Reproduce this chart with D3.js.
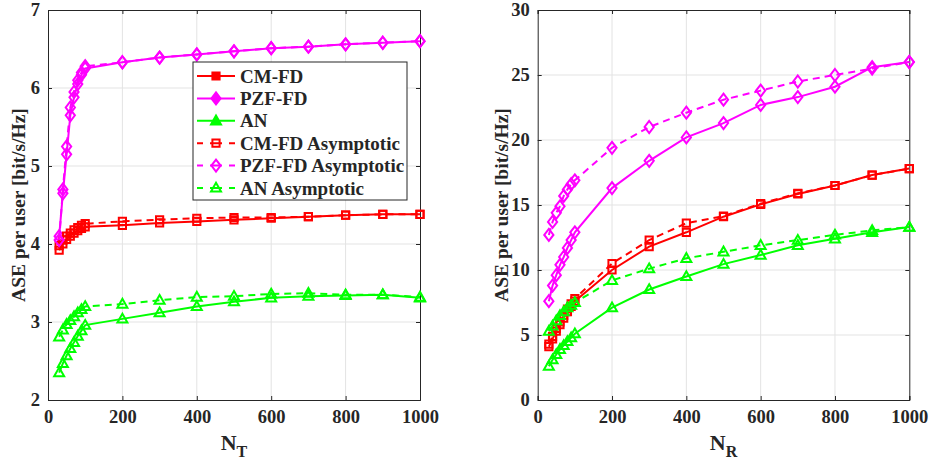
<!DOCTYPE html>
<html>
<head>
<meta charset="utf-8">
<script src="https://cdn.jsdelivr.net/npm/d3@7"></script>
<style>
  html, body { margin: 0; padding: 0; background: #fff; }
  svg { display: block; }
  text { font-family: "Liberation Serif", "Times New Roman", serif; font-weight: bold; fill: #262626; }
</style>
</head>
<body>
<svg id="chart" width="929" height="465"></svg>
<script>
// Antenna counts on the horizontal axes
const antennas = [30, 40, 50, 60, 70, 80, 90, 100, 200, 300, 400, 500, 600, 700, 800, 900, 1000];

// ASE per user versus N_T
const cmfdT      = [3.92, 4.00, 4.06, 4.10, 4.14, 4.17, 4.20, 4.22, 4.24, 4.27, 4.29, 4.31, 4.33, 4.35, 4.37, 4.38, 4.38];
const pzfT       = [4.10, 4.65, 5.15, 5.65, 5.88, 6.05, 6.17, 6.25, 6.33, 6.39, 6.43, 6.47, 6.51, 6.53, 6.56, 6.58, 6.60];
const anT        = [2.35, 2.47, 2.57, 2.66, 2.74, 2.82, 2.89, 2.96, 3.04, 3.12, 3.20, 3.26, 3.31, 3.33, 3.34, 3.35, 3.31];
const cmfdAsymT  = [3.98, 4.05, 4.10, 4.14, 4.18, 4.21, 4.24, 4.26, 4.29, 4.31, 4.33, 4.34, 4.34, 4.35, 4.37, 4.38, 4.38];
const pzfAsymT   = [4.05, 4.70, 5.25, 5.75, 5.95, 6.10, 6.20, 6.28, 6.33, 6.39, 6.43, 6.47, 6.51, 6.53, 6.56, 6.58, 6.60];
const anAsymT    = [2.81, 2.90, 2.97, 3.02, 3.07, 3.12, 3.16, 3.20, 3.23, 3.28, 3.32, 3.33, 3.36, 3.37, 3.35, 3.35, 3.32];

// ASE per user versus N_R
const cmfdR      = [4.1, 4.7, 5.3, 5.8, 6.3, 6.8, 7.2, 7.6, 10.0, 11.8, 12.9, 14.1, 15.05, 15.85, 16.5, 17.3, 17.8];
const pzfR       = [7.6, 8.8, 9.6, 10.4, 11.0, 11.7, 12.3, 12.9, 16.3, 18.4, 20.2, 21.3, 22.7, 23.3, 24.1, 25.6, 26.0];
const anR        = [2.6, 3.1, 3.5, 3.9, 4.2, 4.5, 4.8, 5.1, 7.1, 8.5, 9.5, 10.45, 11.15, 11.9, 12.4, 12.9, 13.3];
const cmfdAsymR  = [4.3, 4.9, 5.5, 6.0, 6.5, 7.0, 7.4, 7.8, 10.5, 12.3, 13.6, 14.15, 15.1, 15.9, 16.5, 17.3, 17.8];
const pzfAsymR   = [12.7, 13.7, 14.4, 14.9, 15.7, 16.2, 16.6, 16.9, 19.4, 21.0, 22.1, 23.1, 23.8, 24.5, 25.0, 25.5, 26.0];
const anAsymR    = [5.3, 5.7, 6.1, 6.5, 6.8, 7.1, 7.3, 7.5, 9.2, 10.1, 10.9, 11.4, 11.9, 12.3, 12.7, 13.05, 13.3];

// Tick labels
const xTicks  = [0, 200, 400, 600, 800, 1000];
const yTicksT = [2, 3, 4, 5, 6, 7];
const yTicksR = [0, 5, 10, 15, 20, 25, 30];

// Series names and styles
const seriesNames = ["CM-FD", "PZF-FD", "AN", "CM-FD Asymptotic", "PZF-FD Asymptotic", "AN Asymptotic"];
const seriesColor = ["#ff0000", "#ff00ff", "#00ff00", "#ff0000", "#ff00ff", "#00ff00"];
const seriesShape = ["square", "diamond", "triangle", "square", "diamond", "triangle"];
const seriesDash  = [false, false, false, true, true, true];

const svg = d3.select("#chart");

function markerPath(shape) {
  if (shape === "square") return "M-3.6,-3.6H3.6V3.6H-3.6Z";
  if (shape === "diamond") return "M0,-6L4.6,0L0,6L-4.6,0Z";
  return "M0,-5.2L5,3.6H-5Z";
}

function drawPanel(opt) {
  const { left, right, top, bottom, yDomain, yTicks, series, xLabelSub, yLabelX, legend } = opt;
  const g = svg.append("g");
  const x = d3.scaleLinear().domain([0, 1000]).range([left, right]);
  const y = d3.scaleLinear().domain(yDomain).range([bottom, top]);

  // grid
  g.append("g").selectAll("line").data(xTicks.slice(1, -1)).join("line")
    .attr("x1", d => x(d)).attr("x2", d => x(d)).attr("y1", top).attr("y2", bottom)
    .attr("stroke", "#e3e3e3").attr("stroke-width", 1);
  g.append("g").selectAll("line").data(yTicks.slice(1, -1)).join("line")
    .attr("y1", d => y(d)).attr("y2", d => y(d)).attr("x1", left).attr("x2", right)
    .attr("stroke", "#e3e3e3").attr("stroke-width", 1);

  // axes with inward ticks on all four sides
  const axB = d3.axisBottom(x).tickValues(xTicks).tickSize(-4).tickPadding(10).tickFormat(d3.format("d"));
  const axT = d3.axisTop(x).tickValues(xTicks).tickSize(-4).tickFormat("");
  const axL = d3.axisLeft(y).tickValues(yTicks).tickSize(-4).tickPadding(8).tickFormat(d3.format("d"));
  const axR = d3.axisRight(y).tickValues(yTicks).tickSize(-4).tickFormat("");
  [[axB, `translate(0,${bottom})`], [axT, `translate(0,${top})`],
   [axL, `translate(${left},0)`], [axR, `translate(${right},0)`]].forEach(([ax, tr]) => {
    const a = g.append("g").attr("transform", tr).call(ax);
    a.select(".domain").attr("stroke", "#262626").attr("stroke-width", 1);
    a.selectAll(".tick line").attr("stroke", "#262626").attr("stroke-width", 1);
    a.selectAll("text").attr("font-size", 18.5).attr("font-family", "Liberation Serif")
      .attr("font-weight", "bold").attr("fill", "#262626");
  });

  // series lines and markers
  const line = d3.line().x((d, i) => x(antennas[i])).y(d => y(d));
  series.forEach((vals, k) => {
    g.append("path").datum(vals)
      .attr("d", line)
      .attr("fill", "none")
      .attr("stroke", seriesColor[k])
      .attr("stroke-width", 2)
      .attr("stroke-dasharray", seriesDash[k] ? "7,5" : null);
    g.append("g").selectAll("path").data(vals).join("path")
      .attr("transform", (d, i) => `translate(${x(antennas[i])},${y(d)})`)
      .attr("d", markerPath(seriesShape[k]))
      .attr("fill", "none")
      .attr("stroke", seriesColor[k])
      .attr("stroke-width", 2);
  });

  // axis titles
  const cx = (left + right) / 2;
  const xl = g.append("text").attr("x", cx).attr("y", 450).attr("text-anchor", "middle")
    .attr("font-size", 22);
  xl.append("tspan").text("N");
  xl.append("tspan").attr("font-size", 16).attr("dy", 7).text(xLabelSub);

  g.append("text")
    .attr("transform", `translate(${yLabelX},${(top + bottom) / 2}) rotate(-90)`)
    .attr("text-anchor", "middle").attr("font-size", 19.5)
    .text("ASE per user [bit/s/Hz]");

  if (legend) {
    const lg = g.append("g").attr("transform", `translate(${legend.x},${legend.y})`);
    lg.append("rect").attr("width", legend.w).attr("height", legend.h)
      .attr("fill", "#fff").attr("stroke", "#262626").attr("stroke-width", 1);
    seriesNames.forEach((name, k) => {
      const ry = 14 + k * 22.4;
      lg.append("line").attr("x1", 4).attr("x2", 42).attr("y1", ry).attr("y2", ry)
        .attr("stroke", seriesColor[k]).attr("stroke-width", 2)
        // dashed samples keep their dashes symmetric around the marker
        .attr("stroke-dasharray", seriesDash[k] ? "6,7,12,7,6" : null);
      lg.append("path").attr("transform", `translate(23,${ry})`)
        .attr("d", markerPath(seriesShape[k]))
        .attr("fill", seriesDash[k] ? "none" : seriesColor[k])
        .attr("stroke", seriesColor[k]).attr("stroke-width", 2);
      lg.append("text").attr("x", 47).attr("y", ry + 6.5).attr("font-size", 19).text(name);
    });
  }
}

drawPanel({
  left: 48, right: 420, top: 10, bottom: 400,
  yDomain: [2, 7], yTicks: yTicksT,
  series: [cmfdT, pzfT, anT, cmfdAsymT, pzfAsymT, anAsymT],
  xLabelSub: "T", yLabelX: 25,
  legend: { x: 193, y: 62, w: 214, h: 138 }
});

drawPanel({
  left: 537.7, right: 909.3, top: 10, bottom: 400,
  yDomain: [0, 30], yTicks: yTicksR,
  series: [cmfdR, pzfR, anR, cmfdAsymR, pzfAsymR, anAsymR],
  xLabelSub: "R", yLabelX: 508
});
</script>
</body>
</html>
